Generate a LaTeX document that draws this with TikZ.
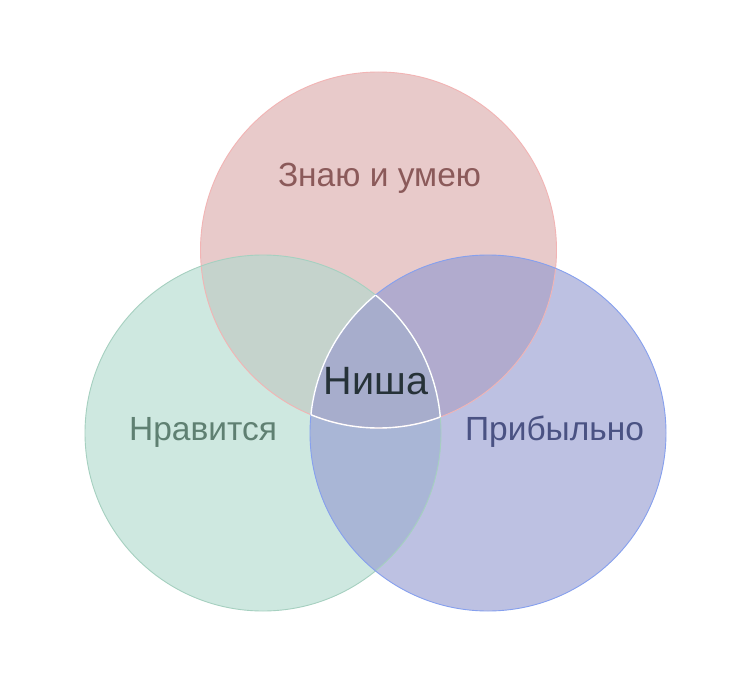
\documentclass[tikz,border=0pt]{standalone}
\usepackage{fontspec}
\setmainfont{Liberation Sans}
\definecolor{topfill}{HTML}{E8CACA}
\definecolor{leftfill}{HTML}{CEE8E0}
\definecolor{rightfill}{HTML}{BDC1E2}
\definecolor{tlfill}{HTML}{C5D3CC}
\definecolor{trfill}{HTML}{B1ABCE}
\definecolor{lrfill}{HTML}{A9B6D6}
\definecolor{allfill}{HTML}{A7ADCC}
\definecolor{topline}{HTML}{F2B4B4}
\definecolor{leftline}{HTML}{A6D0C0}
\definecolor{rightline}{HTML}{86A0EE}
\definecolor{toptext}{HTML}{8B5A5A}
\definecolor{lefttext}{HTML}{5F8072}
\definecolor{righttext}{HTML}{4A5283}
\definecolor{centertext}{HTML}{263238}
\tikzset{
  lbl/.style={font=\fontsize{33.5}{38}\selectfont, inner sep=0pt, anchor=base},
  centerlbl/.style={font=\fontsize{39.5}{44}\selectfont, inner sep=0pt, anchor=base, text=centertext},
}
\begin{document}
\begin{tikzpicture}[x=1pt,y=-1pt]
\useasboundingbox (0,0) rectangle (750,685);
\fill[white] (0,0) rectangle (750,685);
\def\TC{(378.5,250) circle[radius=178pt]}
\def\LC{(263,433) circle[radius=178pt]}
\def\RC{(488,433) circle[radius=178pt]}
% single fills
\fill[topfill] \TC;
\fill[leftfill] \LC;
\fill[rightfill] \RC;
% pairwise
\begin{scope}\clip \TC; \fill[tlfill] \LC; \end{scope}
\begin{scope}\clip \TC; \fill[trfill] \RC; \end{scope}
\begin{scope}\clip \LC; \fill[lrfill] \RC; \end{scope}
\begin{scope}\clip \TC; \clip \LC; \fill[allfill] \RC; \end{scope}
% outlines
\draw[topline, line width=0.9pt] \TC;
\draw[leftline, line width=0.9pt] \LC;
\draw[rightline, line width=0.9pt] \RC;
% white outline of centre region
\begin{scope}\clip \LC; \clip \RC; \draw[white, line width=1.4pt] \TC; \end{scope}
\begin{scope}\clip \TC; \clip \RC; \draw[white, line width=1.4pt] \LC; \end{scope}
\begin{scope}\clip \TC; \clip \LC; \draw[white, line width=1.4pt] \RC; \end{scope}
% labels
\node[lbl, text=toptext] (know) at (379.5,186) {Знаю и умею};
\node[lbl, text=lefttext] (like) at (203,440) {Нравится};
\node[lbl, text=righttext] (profit) at (554.5,440) {Прибыльно};
\node[centerlbl] (niche) at (376,394) {Ниша};
\end{tikzpicture}
\end{document}
